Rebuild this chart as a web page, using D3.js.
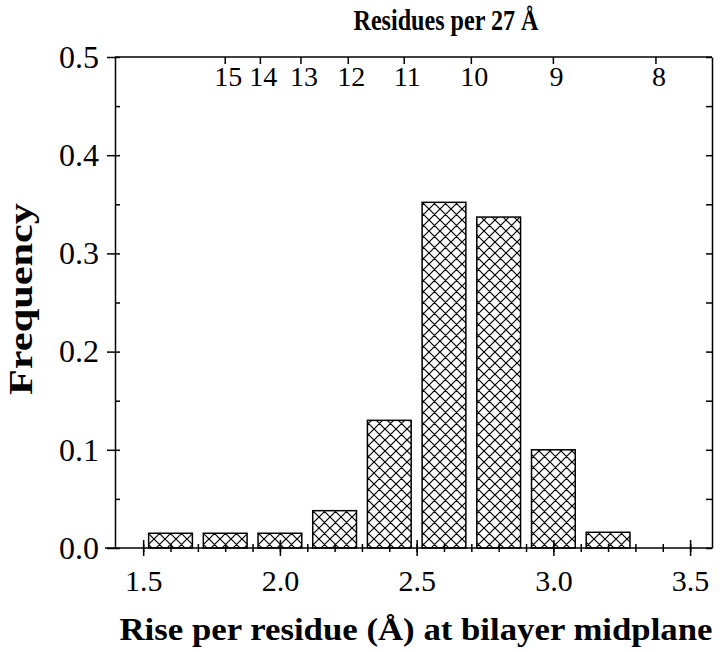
<!DOCTYPE html>
<html>
<head>
<meta charset="utf-8">
<script src="https://cdn.jsdelivr.net/npm/d3@7"></script>
<style>
  body { margin: 0; background: #fff; }
  text { font-family: "Liberation Serif", "Times New Roman", serif; fill: #000; }
  .domain, .tick line { stroke: #000; stroke-width: 1.5; }
</style>
</head>
<body>
<div class="container"></div>
<script>
const WIDTH = 720;
const HEIGHT = 652;
const LEFT = 115, RIGHT = 712, TOP = 57, BOTTOM = 548;

// histogram bins (centre of bin, in Å) and their frequency
const riseCentres = [1.6, 1.8, 2.0, 2.2, 2.4, 2.6, 2.8, 3.0, 3.2];
const frequency   = [0.015, 0.015, 0.015, 0.038, 0.130, 0.352, 0.337, 0.100, 0.016];
const binWidth = 0.16;

const xTicks = [1.5, 2.0, 2.5, 3.0, 3.5];
const yTicks = [0.0, 0.1, 0.2, 0.3, 0.4, 0.5];
const residueTicks = [15, 14, 13, 12, 11, 10, 9, 8];   // residues per 27 Å
const SPAN = 27;

var svg = d3.select(".container").append("svg")
    .attr("width", WIDTH)
    .attr("height", HEIGHT);

var defs = svg.append("defs");
var pat = defs.append("pattern")
    .attr("id", "hatch")
    .attr("patternUnits", "userSpaceOnUse")
    .attr("width", 11)
    .attr("height", 11);
pat.append("rect").attr("width", 11).attr("height", 11).attr("fill", "#fff");
pat.append("path")
    .attr("d", "M0,0L11,11M11,0L0,11M-1,1L1,-1M10,12L12,10M-1,10L1,12M10,-1L12,1")
    .attr("stroke", "#000")
    .attr("stroke-width", 1.2);

var x = d3.scaleLinear().domain([1.397, 3.58]).range([LEFT, RIGHT]);
var y = d3.scaleLinear().domain([0, 0.5]).range([BOTTOM, TOP]);

// bars
svg.append("g").selectAll("rect")
    .data(riseCentres)
    .join("rect")
    .attr("x", (d) => x(d - binWidth / 2))
    .attr("width", (d) => x(d + binWidth / 2) - x(d - binWidth / 2))
    .attr("y", (d, i) => y(frequency[i]))
    .attr("height", (d, i) => y(0) - y(frequency[i]))
    .attr("fill", "url(#hatch)")
    .attr("stroke", "#000")
    .attr("stroke-width", 1.5);

var minorX = d3.range(15, 36).map((v) => v / 10);
var minorY = d3.range(0, 11).map((v) => v / 20);

// bottom axis, minor ticks crossing
var bMinor = svg.append("g")
    .attr("transform", "translate(0," + BOTTOM + ")")
    .call(d3.axisBottom(x).tickValues(minorX).tickSize(4).tickFormat(""));
bMinor.select(".domain").remove();
bMinor.selectAll(".tick line").attr("y1", -4);

var bottomAxis = svg.append("g")
    .attr("transform", "translate(0," + BOTTOM + ")")
    .call(d3.axisBottom(x).tickValues(xTicks).tickSizeInner(8).tickSizeOuter(0)
        .tickPadding(14).tickFormat(d3.format(".1f")));
bottomAxis.selectAll(".tick line").attr("y1", -8);
bottomAxis.selectAll(".tick text").attr("font-size", 30);
bottomAxis.select(".domain").attr("d", "M105,0H" + RIGHT);

// left axis: major out, minor in
var lMinor = svg.append("g")
    .attr("transform", "translate(" + LEFT + ",0)")
    .call(d3.axisRight(y).tickValues(minorY).tickSize(5).tickFormat(""));
lMinor.select(".domain").remove();

var leftAxis = svg.append("g")
    .attr("transform", "translate(" + LEFT + ",0)")
    .call(d3.axisLeft(y).tickValues(yTicks).tickSizeInner(8).tickSizeOuter(0)
        .tickPadding(8).tickFormat(d3.format(".1f")));
leftAxis.selectAll(".tick text").attr("font-size", 32);

// right axis, inward ticks
svg.append("g")
    .attr("transform", "translate(" + RIGHT + ",0)")
    .call(d3.axisLeft(y).tickValues(minorY).tickSizeInner(6).tickSizeOuter(0).tickFormat(""));

// top axis: residues per 27 Å, position = 27 / n
var topAxis = svg.append("g");
topAxis.append("line")
    .attr("x1", LEFT).attr("x2", RIGHT)
    .attr("y1", TOP).attr("y2", TOP)
    .attr("stroke", "#000").attr("stroke-width", 1.5);
var tt = topAxis.selectAll("g")
    .data(residueTicks)
    .join("g")
    .attr("transform", (d) => "translate(" + x(SPAN / d) + "," + TOP + ")");
tt.append("line").attr("y2", 7).attr("stroke", "#000").attr("stroke-width", 1.5);
tt.append("text")
    .attr("x", 3)
    .attr("y", 29)
    .attr("text-anchor", "middle")
    .attr("font-size", 28)
    .text((d) => d);

// titles
svg.append("text")
    .attr("x", 446).attr("y", 30)
    .attr("text-anchor", "middle")
    .attr("font-size", 29)
    .attr("font-weight", "bold")
    .attr("textLength", 185)
    .attr("lengthAdjust", "spacingAndGlyphs")
    .text("Residues per 27 Å");

svg.append("text")
    .attr("x", 416).attr("y", 640)
    .attr("text-anchor", "middle")
    .attr("font-size", 32)
    .attr("font-weight", "bold")
    .attr("textLength", 593)
    .attr("lengthAdjust", "spacingAndGlyphs")
    .text("Rise per residue (Å) at bilayer midplane");

svg.append("text")
    .attr("transform", "translate(32,299) rotate(-90)")
    .attr("text-anchor", "middle")
    .attr("font-size", 33)
    .attr("font-weight", "bold")
    .attr("textLength", 192)
    .attr("lengthAdjust", "spacingAndGlyphs")
    .text("Frequency");
</script>
</body>
</html>
